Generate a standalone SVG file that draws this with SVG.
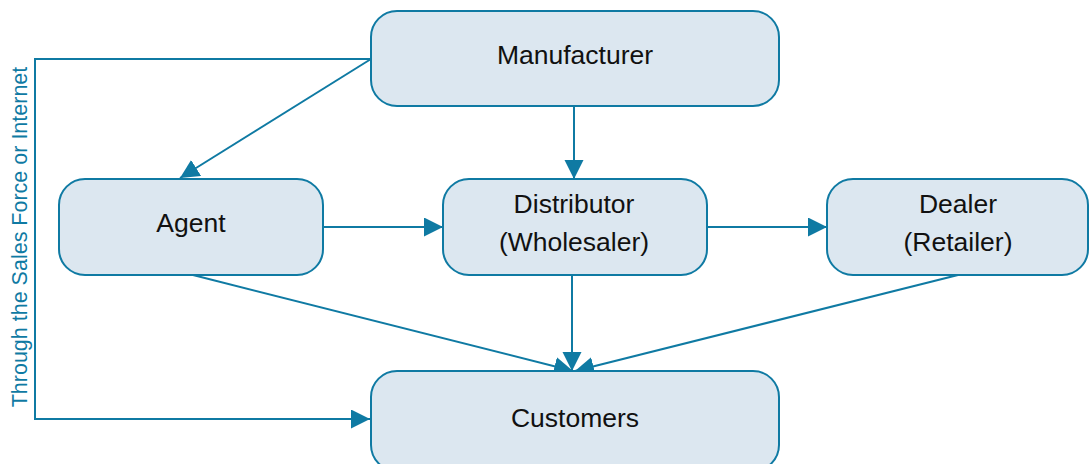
<svg xmlns="http://www.w3.org/2000/svg" width="1089" height="464" viewBox="0 0 1089 464">
<style>
.box{fill:#dce7f0;stroke:#0f7aa3;stroke-width:2}
.lbl{font-family:"Liberation Sans",Arial,sans-serif;font-size:26.5px;fill:#111;text-anchor:middle}
.side{font-family:"Liberation Sans",Arial,sans-serif;font-size:21.5px;fill:#0f7aa3;text-anchor:middle}
.con{fill:none;stroke:#0f7aa3;stroke-width:2}
</style>
<defs>
<marker id="ah" markerUnits="userSpaceOnUse" markerWidth="20" markerHeight="20" refX="19" refY="9.5" orient="auto">
<path d="M0,0 L19,9.5 L0,19 z" fill="#0f7aa3"/>
</marker>
</defs>
<rect width="1089" height="464" fill="#fff"/>
<g id="connectors">
<polyline class="con" points="371,59 35,59 35,419 370,419" marker-end="url(#ah)"/>
<line class="con" x1="371" y1="59" x2="180" y2="178" marker-end="url(#ah)"/>
<line class="con" x1="574" y1="106" x2="574" y2="179" marker-end="url(#ah)"/>
<line class="con" x1="323" y1="227" x2="443" y2="227" marker-end="url(#ah)"/>
<line class="con" x1="707" y1="227" x2="827" y2="227" marker-end="url(#ah)"/>
<line class="con" x1="193" y1="275" x2="573" y2="371" marker-end="url(#ah)"/>
<line class="con" x1="572" y1="275" x2="572" y2="371" marker-end="url(#ah)"/>
<line class="con" x1="958" y1="275" x2="575" y2="371" marker-end="url(#ah)"/>
<text class="side" transform="translate(27,237) rotate(-90)">Through the Sales Force or Internet</text>
</g>
<g id="manufacturer">
<rect class="box" x="371" y="11" width="408" height="95" rx="26"/>
<text class="lbl" x="575" y="64">Manufacturer</text>
</g>
<g id="agent">
<rect class="box" x="59" y="179" width="264" height="96" rx="26"/>
<text class="lbl" x="191" y="232">Agent</text>
</g>
<g id="distributor">
<rect class="box" x="443" y="179" width="264" height="96" rx="26"/>
<text class="lbl" x="574" y="213">Distributor</text>
<text class="lbl" x="574" y="251">(Wholesaler)</text>
</g>
<g id="dealer">
<rect class="box" x="827" y="179" width="261" height="96" rx="26"/>
<text class="lbl" x="958" y="213">Dealer</text>
<text class="lbl" x="958" y="251">(Retailer)</text>
</g>
<g id="customers">
<rect class="box" x="371" y="371" width="408" height="100" rx="26"/>
<text class="lbl" x="575" y="427">Customers</text>
</g>
</svg>
